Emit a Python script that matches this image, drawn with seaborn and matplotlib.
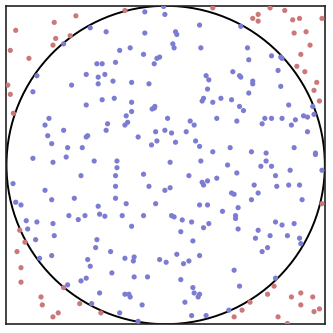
import matplotlib
matplotlib.use("Agg")
import matplotlib.pyplot as plt
import seaborn as sns
import pandas as pd

inside_x = [-0.474, -0.374, -0.641, -0.432, -0.399, -0.809, -0.499, -0.382, -0.424, -0.591,
            -0.424, -0.834, -0.399, -0.499, -0.013, -0.131, -0.005, 0.213, -0.131, 0.062,
            0.070, -0.289, -0.223, 0.045, 0.053, 0.221, -0.139, -0.055, -0.038, -0.072,
            -0.315, -0.331, -0.214, -0.105, 0.254, 0.271, 0.263, -0.323, -0.214, -0.085,
            -0.071, -0.068, 0.238, 0.229, 0.296, 0.347, -0.214, 0.472, 0.514, 0.522,
            0.665, 0.723, 0.731, 0.422, 0.464, 0.472, 0.547, 0.547, 0.706, 0.723,
            0.522, 0.414, 0.464, 0.489, 0.773, 0.924, -0.733, -0.758, -0.741, -0.716,
            -0.641, -0.499, -0.490, -0.365, -0.374, -0.616, -0.524, -0.834, -0.708, -0.625,
            -0.449, -0.532, -0.959, -0.758, -0.716, -0.574, -0.942, -0.909, -0.424, -0.608,
            -0.549, -0.507, -0.415, -0.382, -0.876, -0.809, -0.708, -0.248, -0.256, -0.239,
            0.012, 0.154, 0.179, 0.321, -0.063, -0.005, 0.037, 0.129, -0.173, -0.055,
            -0.089, 0.062, 0.188, 0.213, 0.296, -0.306, -0.306, 0.028, 0.221, -0.315,
            -0.139, 0.146, 0.229, 0.238, 0.263, 0.321, -0.315, -0.105, -0.005, 0.028,
            -0.315, -0.248, -0.063, 0.213, 0.263, -0.273, -0.139, 0.037, 0.053, 0.104,
            0.163, 0.357, 0.447, 0.623, 0.606, 0.665, 0.731, 0.790, 0.815, 0.866,
            0.891, 0.932, 0.891, 0.405, 0.539, 0.631, 0.807, 0.941, 0.941, 0.389,
            0.631, 0.598, 0.665, 0.447, 0.782, 0.690, 0.982, 0.556, 0.698, 0.773,
            0.841, 0.414, 0.430, 0.581, 0.539, 0.857, 0.455, 0.439, 0.439, 0.690,
            -0.867, -0.700, -0.817, -0.432, -0.440, -0.346, -0.792, -0.716, -0.490, -0.474,
            -0.338, -0.532, -0.499, -0.616, -0.415, -0.465, -0.214, 0.095, 0.238, 0.271,
            0.171, -0.256, -0.198, -0.203, -0.038, 0.003, 0.070, 0.112, 0.146, 0.213,
            -0.198, -0.114, 0.095, 0.171, -0.256, -0.231, -0.223, 0.179, 0.213, 0.204,
            -0.148, 0.121, -0.289, 0.163, 0.254, -0.173, 0.731, 0.807, 0.455, 0.581,
            0.564, 0.656, 0.765, 0.841, 0.849, 0.640, 0.606, 0.430, 0.464, 0.690,
            0.397]
inside_y = [0.862, 0.837, 0.761, 0.636, 0.636, 0.561, 0.569, 0.569, 0.552, 0.502,
            0.510, 0.460, 0.410, 0.377, 0.996, 0.962, 0.946, 0.879, 0.829, 0.837,
            0.820, 0.720, 0.736, 0.761, 0.736, 0.736, 0.695, 0.670, 0.678, 0.636,
            0.645, 0.527, 0.519, 0.510, 0.561, 0.535, 0.477, 0.419, 0.394, 0.352,
            0.358, 0.368, 0.419, 0.402, 0.394, 0.419, 0.336, 0.871, 0.736, 0.661,
            0.686, 0.678, 0.670, 0.586, 0.561, 0.552, 0.527, 0.510, 0.594, 0.494,
            0.452, 0.410, 0.368, 0.342, 0.377, 0.368, 0.293, 0.251, 0.184, 0.134,
            0.218, 0.176, 0.184, 0.259, 0.218, 0.109, 0.109, 0.042, 0.017, 0.050,
            0.025, -0.067, -0.117, -0.159, -0.218, -0.209, -0.234, -0.251, -0.259, -0.318,
            -0.343, -0.318, -0.309, -0.322, -0.350, -0.358, -0.368, 0.309, 0.251, 0.268,
            0.293, 0.276, 0.251, 0.293, 0.209, 0.218, 0.201, 0.209, 0.176, 0.151,
            0.126, 0.143, 0.151, 0.117, 0.083, 0.025, -0.017, 0.017, 0.025, -0.067,
            -0.058, -0.067, -0.109, -0.126, -0.100, -0.083, -0.134, -0.134, -0.159, -0.143,
            -0.209, -0.243, -0.243, -0.251, -0.251, -0.318, -0.318, -0.318, -0.326, -0.345,
            -0.358, -0.291, 0.276, 0.293, 0.259, 0.293, 0.293, 0.251, 0.284, 0.309,
            0.301, 0.318, 0.209, 0.109, 0.083, 0.075, 0.109, 0.075, 0.066, 0.000,
            0.025, -0.008, -0.008, -0.050, -0.033, -0.067, -0.033, -0.126, -0.134, -0.126,
            -0.126, -0.176, -0.184, -0.176, -0.218, -0.218, -0.268, -0.318, -0.336, -0.358,
            -0.402, -0.444, -0.469, -0.469, -0.519, -0.544, -0.586, -0.569, -0.594, -0.636,
            -0.678, -0.728, -0.711, -0.753, -0.804, -0.871, -0.385, -0.419, -0.394, -0.368,
            -0.477, -0.586, -0.578, -0.603, -0.594, -0.611, -0.561, -0.620, -0.603, -0.569,
            -0.703, -0.703, -0.720, -0.770, -0.812, -0.812, -0.829, -0.804, -0.812, -0.829,
            -0.879, -0.862, -0.929, -0.946, -0.946, -0.982, -0.377, -0.368, -0.402, -0.410,
            -0.460, -0.444, -0.444, -0.460, -0.494, -0.519, -0.544, -0.661, -0.761, -0.711,
            -0.912]

outside_x = [-0.564, -0.700, -0.942, -0.691, -0.600, -0.708, -0.976, -0.859, -0.992, -0.976,
             -0.957, -0.256, 0.296, 0.656, 0.748, 0.581, 0.547, 0.581, 0.798, 0.841,
             0.982, 0.807, 0.882, 0.907, 0.849, 0.824, 0.874, 0.949, 0.932, 0.966,
             0.982, -0.917, -0.884, -0.934, -0.909, -0.909, -0.641, -0.783, -0.775, -0.540,
             -0.675, -0.708, -0.407, 0.681, 0.640, 0.530, 0.849, 0.790, 0.924, 0.849,
             0.932, 0.966, 0.480, 0.430, 0.706, 0.765]
outside_y = [0.937, 0.896, 0.846, 0.795, 0.812, 0.753, 0.720, 0.670, 0.502, 0.444,
             0.325, 0.971, 0.987, 0.987, 0.971, 0.946, 0.921, 0.904, 0.912, 0.921,
             0.921, 0.829, 0.837, 0.753, 0.695, 0.620, 0.586, 0.519, 0.469, 0.402,
             -0.243, -0.410, -0.485, -0.544, -0.645, -0.736, -0.770, -0.829, -0.879, -0.871,
             -0.929, -0.954, -0.929, -0.761, -0.812, -0.862, -0.804, -0.829, -0.829, -0.879,
             -0.921, -0.904, -0.912, -0.954, -0.954, -0.996]

df = pd.concat([
    pd.DataFrame({"x": inside_x, "y": inside_y, "where": "inside"}),
    pd.DataFrame({"x": outside_x, "y": outside_y, "where": "outside"}),
], ignore_index=True)

sns.set_style("white")
fig = plt.figure(figsize=(3.33, 3.33), dpi=100)
ax = fig.add_axes([0.0195, 0.026, 0.956, 0.957])

sns.scatterplot(data=df, x="x", y="y", hue="where",
                palette={"inside": "#7c7cd2", "outside": "#cc7878"},
                s=14, linewidth=0, legend=False, ax=ax, zorder=3)

circle = plt.Circle((0, 0), 1.0, fill=False, color="black", linewidth=1.4, zorder=2)
ax.add_patch(circle)

ax.set_xlim(-1, 1)
ax.set_ylim(-1, 1)
ax.set_aspect("equal")
ax.set_xticks([])
ax.set_yticks([])
ax.set_xlabel("")
ax.set_ylabel("")
for sp in ax.spines.values():
    sp.set_visible(True)
    sp.set_color("#222222")
    sp.set_linewidth(1.2)

fig.savefig("out.png", dpi=100)
